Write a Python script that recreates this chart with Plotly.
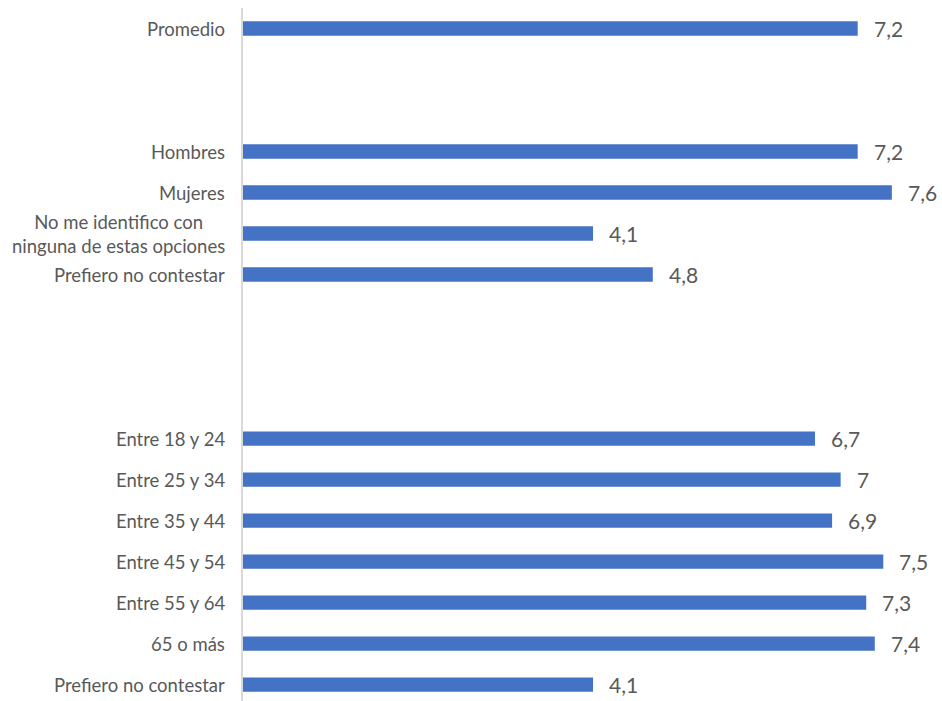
import plotly.graph_objects as go

categories = ["Promedio", "Hombres", "Mujeres", "No me identifico con<br>ninguna de estas opciones",
              "Prefiero no contestar", "Entre 18 y 24", "Entre 25 y 34", "Entre 35 y 44",
              "Entre 45 y 54", "Entre 55 y 64", "65 o más", "Prefiero no contestar"]
slots = [0, 3, 4, 5, 6, 10, 11, 12, 13, 14, 15, 16]
values = [7.2, 7.2, 7.6, 4.1, 4.8, 6.7, 7.0, 6.9, 7.5, 7.3, 7.4, 4.1]

def fmt(v):
    s = ("%g" % v)
    return s.replace(".", ",")

labels = [fmt(v) for v in values]
grey = "#595959"

fig = go.Figure(go.Bar(
    x=values, y=slots, orientation="h", width=0.35,
    marker=dict(color="#4472C4", line=dict(width=0)),
    hoverinfo="skip",
))

ann = []
for s, v, lab in zip(slots, values, labels):
    ann.append(dict(x=v, y=s, xref="x", yref="y", text=lab, showarrow=False,
                    xanchor="left", xshift=14, font=dict(family="Lato", size=21, color=grey)))
for s, c in zip(slots, categories):
    ann.append(dict(x=0, y=s, xref="paper", yref="y", text=c, showarrow=False,
                    xanchor="right", align="center", xshift=-16,
                    font=dict(family="Lato", size=18.5, color=grey)))

fig.update_layout(
    width=942, height=701,
    margin=dict(l=243, r=16, t=8, b=0),
    plot_bgcolor="white", paper_bgcolor="white",
    showlegend=False,
    annotations=ann,
    xaxis=dict(range=[0, 8], showgrid=False, zeroline=False, showticklabels=False,
               showline=False, fixedrange=True),
    yaxis=dict(range=[16.4, -0.5], showgrid=False, zeroline=False, showticklabels=False,
               showline=True, linecolor="#d9d9d9", linewidth=2, fixedrange=True),
)
fig.update_traces(cliponaxis=False)
fig.write_html("out.html", config={"displayModeBar": False, "staticPlot": True},
               post_script="document.body.style.margin='0';document.body.style.overflow='hidden';")
